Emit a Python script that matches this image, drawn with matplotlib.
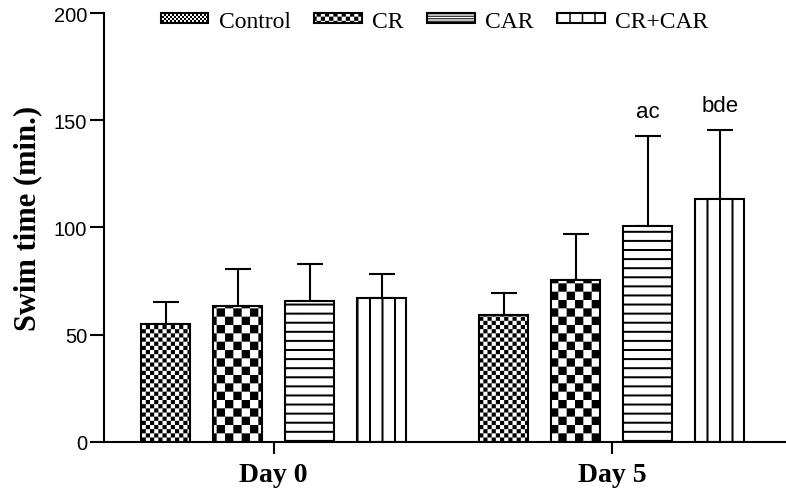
import warnings
import numpy as np
import matplotlib
matplotlib.use('Agg')
import matplotlib.pyplot as plt
from matplotlib import hatch as mhatch
from matplotlib.path import Path

warnings.filterwarnings('ignore')

# data
groups = ['Day 0', 'Day 5']
series = ['Control', 'CR', 'CAR', 'CR+CAR']
control = [54.8, 59.0]
control_err = [10.3, 10.3]
cr = [63.2, 75.4]
cr_err = [17.4, 21.6]
car = [65.6, 100.7]
car_err = [17.3, 42.2]
cr_car = [67.0, 113.3]
cr_car_err = [11.2, 32.4]
letters = [['', ''], ['', ''], ['', 'ac'], ['', 'bde']]

# all hatch shapes are filled polygons, so keep the stroke tiny
plt.rcParams['hatch.linewidth'] = 0.01
plt.rcParams['hatch.color'] = 'black'

# char -> (kind, count per inch tile, thickness / offset)
PATTERNS = {
    'k': ('checker', 24, 0), 'K': ('checker', 12, 0),
    'h': ('hlines', 11, 0.02), 'v': ('vlines', 8, 0.02),
    'c': ('checker', 50, 0), 'C': ('checker', 24, 0),
    'H': ('hlines', 40, 0.01), 'V': ('vlines', 8, 0.015),
}


class PatternHatch(mhatch.HatchPatternBase):
    def __init__(self, hatch, density):
        self.rects = []
        for ch, (kind, n, t) in PATTERNS.items():
            if ch not in hatch:
                continue
            s = 1.0 / n
            if kind == 'checker':
                for i in range(n):
                    for j in range(n):
                        if (i + j) % 2 == 0:
                            self.rects.append((i * s, j * s, s, s))
            elif kind == 'hlines':
                for y in (np.arange(n) + 0.5) * s:
                    self.rects.append((0, y - t / 2, 1, t))
            else:
                for xx in (np.arange(n) + 0.6) * s:
                    self.rects.append((xx - t / 2, 0, t, 1))
        self.num_vertices = 5 * len(self.rects)

    def set_vertices_and_codes(self, vertices, codes):
        k = 0
        for x0, y0, w, h in self.rects:
            vertices[k:k + 5] = [(x0, y0), (x0 + w, y0), (x0 + w, y0 + h), (x0, y0 + h), (x0, y0)]
            codes[k:k + 5] = [Path.MOVETO, Path.LINETO, Path.LINETO, Path.LINETO, Path.CLOSEPOLY]
            k += 5


mhatch._hatch_types.append(PatternHatch)

values = [control, cr, car, cr_car]
errors = [control_err, cr_err, car_err, cr_car_err]
hatches = ['k', 'K', 'h', 'v']
legend_hatches = ['c', 'C', 'H', 'V']

fig = plt.figure(figsize=(7.86, 4.89), dpi=100)
ax = fig.add_axes([0.1323, 0.0947, 0.8677, 0.8761])

x = np.arange(len(groups))
step = 0.213
width = 0.145

for i in range(4):
    xs = x + (i - 1.5) * step
    ax.bar(xs, values[i], width, color='white', edgecolor='black',
           linewidth=1.5, hatch=hatches[i], label=series[i], zorder=2)
    ax.errorbar(xs, values[i], yerr=[np.zeros(len(xs)), errors[i]], fmt='none',
                ecolor='black', elinewidth=1.5, capsize=9.5, capthick=1.5, zorder=1)
    for j in range(len(xs)):
        if letters[i][j]:
            ax.annotate(letters[i][j], (xs[j], values[i][j] + errors[i][j]),
                        xytext=(0, 10), textcoords='offset points',
                        ha='center', va='bottom', fontsize=16,
                        family='Liberation Sans')

ax.set_xlim(-0.502, 1.515)
ax.set_ylim(0, 200)
ax.set_yticks([0, 50, 100, 150, 200])
ax.set_xticks(x)
ax.set_xticklabels(groups, family='Liberation Serif', fontweight='bold', fontsize=20)
for lab in ax.get_yticklabels():
    lab.set_family('Liberation Sans')
    lab.set_fontsize(14.5)

ax.spines['top'].set_visible(False)
ax.spines['right'].set_visible(False)
ax.spines['left'].set_linewidth(1.5)
ax.spines['bottom'].set_linewidth(1.5)
ax.tick_params(axis='y', direction='out', length=10, width=1.5, pad=2)
ax.tick_params(axis='x', direction='out', length=8.5, width=1.5, pad=6)

ax.set_ylabel('Swim time (min.)', family='Liberation Serif', fontweight='bold',
              fontsize=22)
ax.yaxis.set_label_coords(-0.091, 0.524)

leg = fig.legend(loc='center', bbox_to_anchor=(0.553, 0.955), ncol=4, frameon=False,
                 handlelength=2.0, handleheight=0.32, handletextpad=0.45,
                 columnspacing=1.0, prop={'family': 'Liberation Serif', 'size': 17})
for p, h in zip(leg.get_patches(), legend_hatches):
    p.set_hatch(h)

fig.savefig('out.png', dpi=100)
